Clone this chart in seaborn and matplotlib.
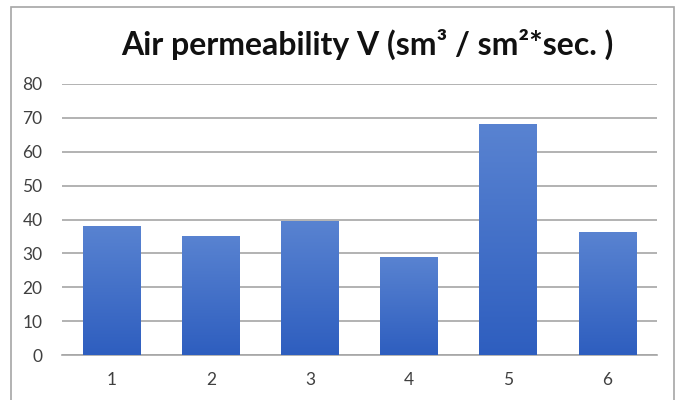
import numpy as np
import pandas as pd
import matplotlib
matplotlib.use("Agg")
import matplotlib.pyplot as plt
import seaborn as sns
from matplotlib.patches import Rectangle

# values
samples = ["1", "2", "3", "4", "5", "6"]
permeability = [38.2, 35.2, 39.6, 28.9, 68.1, 36.2]
y_ticks = [0, 10, 20, 30, 40, 50, 60, 70, 80]

df = pd.DataFrame({"sample": samples, "V": permeability})

sns.set_style("white")
plt.rcParams["font.family"] = ["Lato", "DejaVu Sans"]

fig = plt.figure(figsize=(6.8, 4.0), dpi=100)
ax = fig.add_axes([62 / 680, 1 - 355 / 400, 595 / 680, 271 / 400])

sns.barplot(data=df, x="sample", y="V", color="#4472C4", width=0.58,
            saturation=1, ax=ax, zorder=3)

# vertical gradient inside each bar (lighter on top, darker at bottom)
grad = np.linspace(0, 1, 256).reshape(-1, 1)
cmap = matplotlib.colors.LinearSegmentedColormap.from_list(
    "bar", ["#2E5EBF", "#5983D1"])
for p in ax.patches:
    x0, y0 = p.get_x(), p.get_y()
    w, h = p.get_width(), p.get_height()
    im = ax.imshow(grad, extent=[x0, x0 + w, y0, y0 + h], origin="lower",
                   cmap=cmap, aspect="auto", zorder=4)
    im.set_clip_path(p)
    p.set_edgecolor("none")

ax.set_xlim(-0.5, 5.5)
ax.set_ylim(0, 80)
ax.set_yticks(y_ticks)
ax.yaxis.grid(True, color="#A6A6A6", linewidth=1.2, zorder=0)
ax.set_axisbelow(True)
for s in ["top", "right", "left"]:
    ax.spines[s].set_visible(False)
ax.spines["bottom"].set_color("#A6A6A6")
ax.spines["bottom"].set_linewidth(1.2)
ax.tick_params(axis="both", length=0, labelsize=12.5, colors="#404040")
ax.tick_params(axis="x", pad=12)
ax.tick_params(axis="y", pad=14)
ax.set_xlabel("")
ax.set_ylabel("")

fig.text(0.54, 1 - 44 / 400, "Air permeability V (sm³ / sm²*sec. )",
         ha="center", va="center", fontsize=23, fontweight="bold",
         color="#111111")

# chart border
fig.patches.append(Rectangle((11 / 680, -0.05), 663 / 680, 1.05 - 7 / 400,
                             transform=fig.transFigure, fill=False,
                             edgecolor="#A6A6A6", linewidth=1.2))

fig.savefig("out.png", dpi=100)
